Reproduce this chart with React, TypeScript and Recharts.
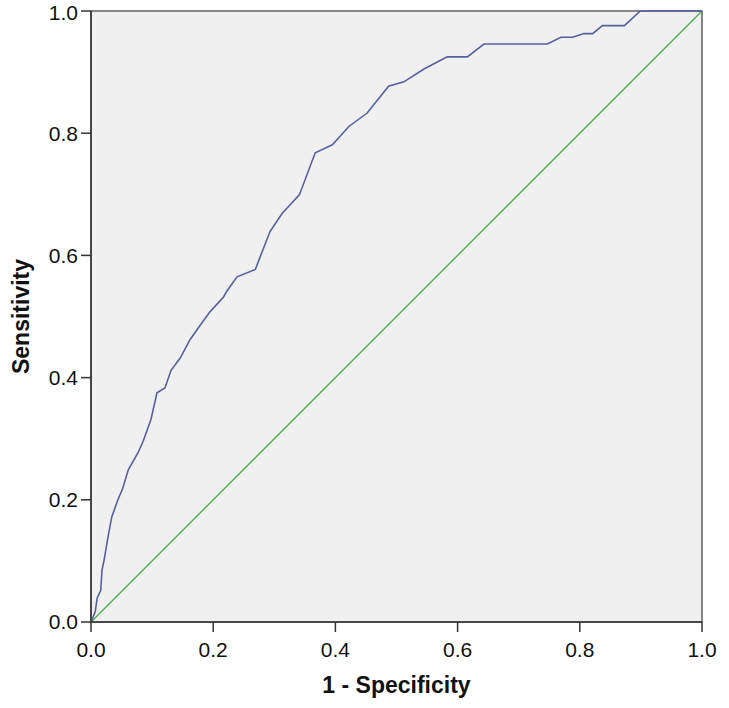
/**
 * ROC 曲线图
 * Sensitivity vs 1 - Specificity, with reference diagonal
 */
import {
  LineChart,
  Line,
  XAxis,
  YAxis,
  ReferenceArea,
} from "recharts";

/* 去掉默认 body 边距 */
if (typeof document !== "undefined") {
  document.body.style.margin = "0";
}

/* ROC 曲线点 (1 - Specificity) */
const FPR = [
  0, 0.007, 0.01, 0.016, 0.018, 0.021, 0.028, 0.034, 0.044, 0.052, 0.061, 0.077,
  0.085, 0.098, 0.108, 0.121, 0.131, 0.146, 0.162, 0.179, 0.195, 0.217, 0.222,
  0.239, 0.269, 0.277, 0.293, 0.313, 0.341, 0.367, 0.395, 0.422, 0.452, 0.487,
  0.512, 0.545, 0.583, 0.616, 0.643, 0.747, 0.769, 0.788, 0.807, 0.821, 0.837,
  0.873, 0.899, 1.0,
];

/* ROC 曲线点 (Sensitivity) */
const TPR = [
  0, 0.017, 0.039, 0.052, 0.085, 0.099, 0.14, 0.172, 0.2, 0.219, 0.249, 0.277,
  0.295, 0.331, 0.375, 0.383, 0.412, 0.432, 0.462, 0.486, 0.508, 0.532, 0.541,
  0.565, 0.577, 0.598, 0.639, 0.669, 0.699, 0.768, 0.781, 0.811, 0.833, 0.877,
  0.884, 0.905, 0.925, 0.925, 0.946, 0.946, 0.957, 0.957, 0.963, 0.963, 0.976,
  0.976, 1.0, 1.0,
];

/* 参考线 */
const DIAG_X = [0, 1];
const DIAG_Y = [0, 1];

/* 刻度 */
const TICKS = [0, 0.2, 0.4, 0.6, 0.8, 1.0];

const rocData = FPR.map((x, i) => ({ x, y: TPR[i] }));
const diagData = DIAG_X.map((x, i) => ({ x, y: DIAG_Y[i] }));

const FONT = "Arial, 'Liberation Sans', sans-serif";

export default function App() {
  return (
    <div style={{ width: 729, height: 708, background: "#fff", fontFamily: FONT }}>
      <LineChart
        width={729}
        height={708}
        margin={{ top: 11, right: 27, left: 0, bottom: 0 }}
      >
        {/* 绘图区背景和边框 */}
        <ReferenceArea
          x1={0}
          x2={1}
          y1={0}
          y2={1}
          fill="#f0f0f0"
          fillOpacity={1}
          stroke="#606060"
          strokeWidth={1.5}
          ifOverflow="visible"
        />
        {/* X 轴 */}
        <XAxis
          type="number"
          dataKey="x"
          domain={[0, 1]}
          ticks={TICKS}
          tickFormatter={(v: number) => v.toFixed(1)}
          height={86}
          tickSize={10}
          tickMargin={10}
          tick={{ fill: "#111", fontSize: 21, fontFamily: FONT }}
          axisLine={{ stroke: "#333", strokeWidth: 1.5 }}
          tickLine={{ stroke: "#333", strokeWidth: 1.5 }}
          label={{
            value: "1 - Specificity",
            position: "insideBottom",
            offset: 15,
            style: { fontSize: 23, fontWeight: "bold", fill: "#111", fontFamily: FONT },
          }}
        />
        {/* Y 轴 */}
        <YAxis
          type="number"
          dataKey="y"
          domain={[0, 1]}
          ticks={TICKS}
          tickFormatter={(v: number) => v.toFixed(1)}
          width={91}
          tickSize={10}
          tickMargin={3}
          tick={{ fill: "#111", fontSize: 21, fontFamily: FONT }}
          axisLine={{ stroke: "#333", strokeWidth: 1.5 }}
          tickLine={{ stroke: "#333", strokeWidth: 1.5 }}
          label={{
            value: "Sensitivity",
            angle: -90,
            position: "insideLeft",
            offset: 21,
            style: {
              textAnchor: "middle",
              fontSize: 23,
              fontWeight: "bold",
              fill: "#111",
              fontFamily: FONT,
            },
          }}
        />
        {/* 参考对角线 */}
        <Line
          data={diagData}
          type="linear"
          dataKey="y"
          stroke="#45ad4c"
          strokeWidth={1.3}
          dot={false}
          isAnimationActive={false}
        />
        {/* ROC 曲线 */}
        <Line
          data={rocData}
          type="linear"
          dataKey="y"
          stroke="#56609e"
          strokeWidth={1.6}
          dot={false}
          isAnimationActive={false}
        />
      </LineChart>
    </div>
  );
}
